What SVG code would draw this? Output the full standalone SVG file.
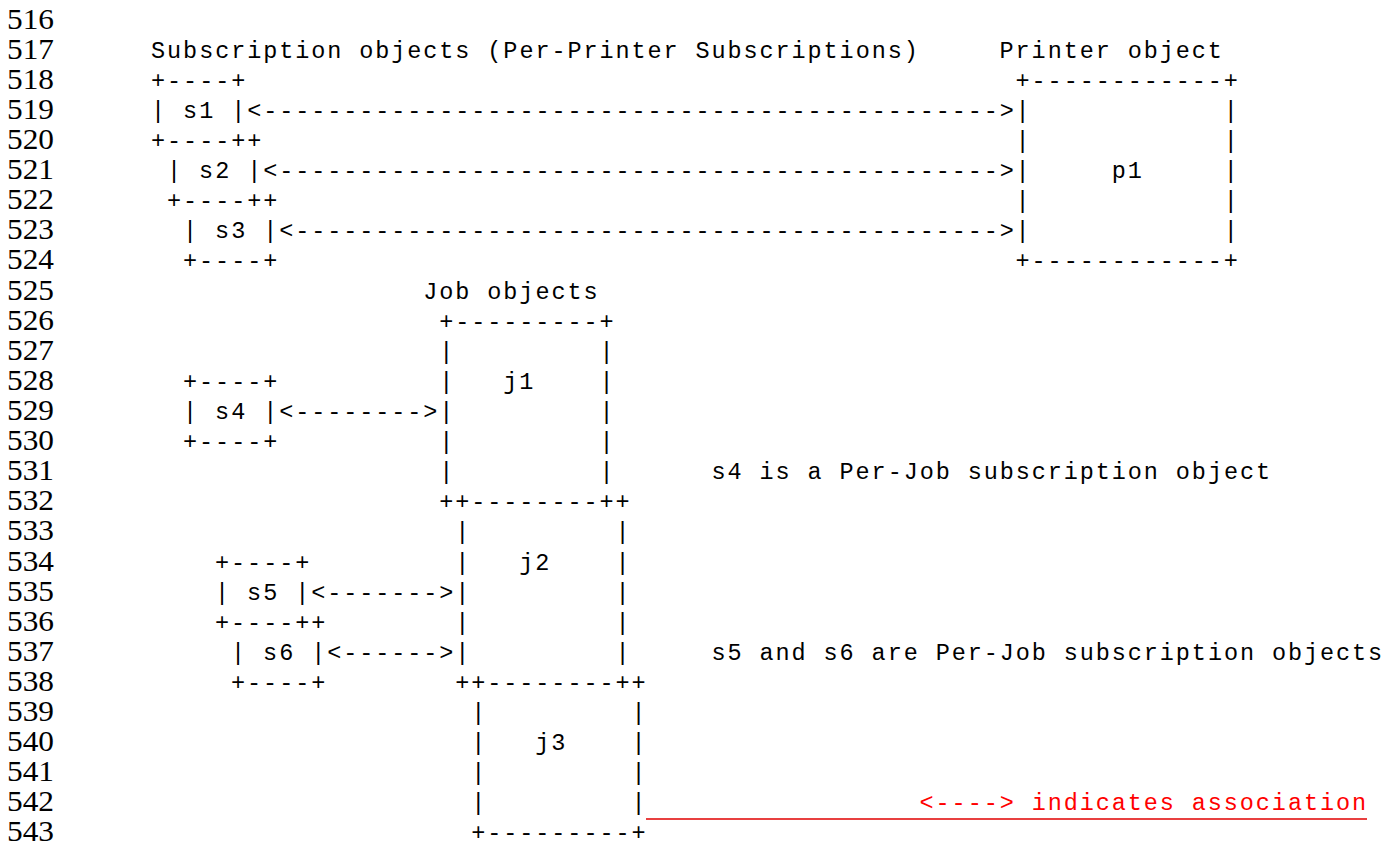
<svg xmlns="http://www.w3.org/2000/svg" width="1389" height="844" viewBox="0 0 1389 844">
<style>
.ln{font-family:"Liberation Serif","Times New Roman",serif;font-size:29px;fill:#000}
.m{font-family:"Liberation Mono","Courier New",monospace;font-size:23.5px;letter-spacing:1.91px;fill:#000}
.r{fill:#ff0000}
</style>
<rect width="1389" height="844" fill="#fff"/>
<g id="line-numbers" class="ln">
<text x="7" y="28.5" textLength="47" lengthAdjust="spacingAndGlyphs">516</text>
<text x="7" y="58.6" textLength="47" lengthAdjust="spacingAndGlyphs">517</text>
<text x="7" y="88.7" textLength="47" lengthAdjust="spacingAndGlyphs">518</text>
<text x="7" y="118.8" textLength="47" lengthAdjust="spacingAndGlyphs">519</text>
<text x="7" y="148.9" textLength="47" lengthAdjust="spacingAndGlyphs">520</text>
<text x="7" y="179.1" textLength="47" lengthAdjust="spacingAndGlyphs">521</text>
<text x="7" y="209.2" textLength="47" lengthAdjust="spacingAndGlyphs">522</text>
<text x="7" y="239.3" textLength="47" lengthAdjust="spacingAndGlyphs">523</text>
<text x="7" y="269.4" textLength="47" lengthAdjust="spacingAndGlyphs">524</text>
<text x="7" y="299.5" textLength="47" lengthAdjust="spacingAndGlyphs">525</text>
<text x="7" y="329.6" textLength="47" lengthAdjust="spacingAndGlyphs">526</text>
<text x="7" y="359.7" textLength="47" lengthAdjust="spacingAndGlyphs">527</text>
<text x="7" y="389.8" textLength="47" lengthAdjust="spacingAndGlyphs">528</text>
<text x="7" y="419.9" textLength="47" lengthAdjust="spacingAndGlyphs">529</text>
<text x="7" y="450.0" textLength="47" lengthAdjust="spacingAndGlyphs">530</text>
<text x="7" y="480.2" textLength="47" lengthAdjust="spacingAndGlyphs">531</text>
<text x="7" y="510.3" textLength="47" lengthAdjust="spacingAndGlyphs">532</text>
<text x="7" y="540.4" textLength="47" lengthAdjust="spacingAndGlyphs">533</text>
<text x="7" y="570.5" textLength="47" lengthAdjust="spacingAndGlyphs">534</text>
<text x="7" y="600.6" textLength="47" lengthAdjust="spacingAndGlyphs">535</text>
<text x="7" y="630.7" textLength="47" lengthAdjust="spacingAndGlyphs">536</text>
<text x="7" y="660.8" textLength="47" lengthAdjust="spacingAndGlyphs">537</text>
<text x="7" y="690.9" textLength="47" lengthAdjust="spacingAndGlyphs">538</text>
<text x="7" y="721.0" textLength="47" lengthAdjust="spacingAndGlyphs">539</text>
<text x="7" y="751.1" textLength="47" lengthAdjust="spacingAndGlyphs">540</text>
<text x="7" y="781.3" textLength="47" lengthAdjust="spacingAndGlyphs">541</text>
<text x="7" y="811.4" textLength="47" lengthAdjust="spacingAndGlyphs">542</text>
<text x="7" y="840.5" textLength="47" lengthAdjust="spacingAndGlyphs">543</text>
</g>
<g id="titles" class="m">
<text x="151.1" y="57.6">Subscription objects (Per-Printer Subscriptions)</text>
<text x="999.6" y="57.6">Printer object</text>
<text x="423.3" y="298.5">Job objects</text>
<text x="711.5" y="479.2">s4 is a Per-Job subscription object</text>
<text x="711.5" y="659.8">s5 and s6 are Per-Job subscription objects</text>
</g>
<g id="s1" class="m">
<text x="151.1" y="87.7">+----+</text>
<text x="151.1" y="117.8">|&#160;s1&#160;|</text>
<text x="151.1" y="147.9">+----++</text>
</g>
<g id="s2" class="m">
<text x="167.1" y="178.1">|&#160;s2&#160;|</text>
<text x="167.1" y="208.2">+----++</text>
</g>
<g id="s3" class="m">
<text x="183.1" y="238.3">|&#160;s3&#160;|</text>
<text x="183.1" y="268.4">+----+</text>
</g>
<g id="p1" class="m">
<text x="1015.6" y="87.7">+------------+</text>
<text x="1015.6" y="117.8">|&#160;&#160;&#160;&#160;&#160;&#160;&#160;&#160;&#160;&#160;&#160;&#160;|</text>
<text x="1015.6" y="147.9">|&#160;&#160;&#160;&#160;&#160;&#160;&#160;&#160;&#160;&#160;&#160;&#160;|</text>
<text x="1015.6" y="178.1">|&#160;&#160;&#160;&#160;&#160;p1&#160;&#160;&#160;&#160;&#160;|</text>
<text x="1015.6" y="208.2">|&#160;&#160;&#160;&#160;&#160;&#160;&#160;&#160;&#160;&#160;&#160;&#160;|</text>
<text x="1015.6" y="238.3">|&#160;&#160;&#160;&#160;&#160;&#160;&#160;&#160;&#160;&#160;&#160;&#160;|</text>
<text x="1015.6" y="268.4">+------------+</text>
</g>
<g id="j1" class="m">
<text x="439.3" y="328.6">+---------+</text>
<text x="439.3" y="358.7">|&#160;&#160;&#160;&#160;&#160;&#160;&#160;&#160;&#160;|</text>
<text x="439.3" y="388.8">|&#160;&#160;&#160;j1&#160;&#160;&#160;&#160;|</text>
<text x="439.3" y="418.9">|&#160;&#160;&#160;&#160;&#160;&#160;&#160;&#160;&#160;|</text>
<text x="439.3" y="449.0">|&#160;&#160;&#160;&#160;&#160;&#160;&#160;&#160;&#160;|</text>
<text x="439.3" y="479.2">|&#160;&#160;&#160;&#160;&#160;&#160;&#160;&#160;&#160;|</text>
<text x="439.3" y="509.3">++--------++</text>
</g>
<g id="j2" class="m">
<text x="455.3" y="539.4">|&#160;&#160;&#160;&#160;&#160;&#160;&#160;&#160;&#160;|</text>
<text x="455.3" y="569.5">|&#160;&#160;&#160;j2&#160;&#160;&#160;&#160;|</text>
<text x="455.3" y="599.6">|&#160;&#160;&#160;&#160;&#160;&#160;&#160;&#160;&#160;|</text>
<text x="455.3" y="629.7">|&#160;&#160;&#160;&#160;&#160;&#160;&#160;&#160;&#160;|</text>
<text x="455.3" y="659.8">|&#160;&#160;&#160;&#160;&#160;&#160;&#160;&#160;&#160;|</text>
<text x="455.3" y="689.9">++--------++</text>
</g>
<g id="j3" class="m">
<text x="471.3" y="720.0">|&#160;&#160;&#160;&#160;&#160;&#160;&#160;&#160;&#160;|</text>
<text x="471.3" y="750.1">|&#160;&#160;&#160;j3&#160;&#160;&#160;&#160;|</text>
<text x="471.3" y="780.3">|&#160;&#160;&#160;&#160;&#160;&#160;&#160;&#160;&#160;|</text>
<text x="471.3" y="810.4">|&#160;&#160;&#160;&#160;&#160;&#160;&#160;&#160;&#160;|</text>
<text x="471.3" y="839.5">+---------+</text>
</g>
<g id="s4" class="m">
<text x="183.1" y="388.8">+----+</text>
<text x="183.1" y="418.9">|&#160;s4&#160;|</text>
<text x="183.1" y="449.0">+----+</text>
</g>
<g id="s5" class="m">
<text x="215.1" y="569.5">+----+</text>
<text x="215.1" y="599.6">|&#160;s5&#160;|</text>
<text x="215.1" y="629.7">+----++</text>
</g>
<g id="s6" class="m">
<text x="231.1" y="659.8">|&#160;s6&#160;|</text>
<text x="231.1" y="689.9">+----+</text>
</g>
<g id="connectors" class="m">
<text x="247.2" y="117.8">&lt;----------------------------------------------&gt;</text>
<text x="263.2" y="178.1">&lt;---------------------------------------------&gt;</text>
<text x="279.2" y="238.3">&lt;--------------------------------------------&gt;</text>
<text x="279.2" y="418.9">&lt;--------&gt;</text>
<text x="311.2" y="599.6">&lt;-------&gt;</text>
<text x="327.2" y="659.8">&lt;------&gt;</text>
</g>
<g id="legend">
<text class="m r" x="919.6" y="810.4">&lt;----&gt; indicates association</text>
<line x1="646" y1="819" x2="1367" y2="819" stroke="#e00000" stroke-width="1.3"/>
</g>
</svg>
